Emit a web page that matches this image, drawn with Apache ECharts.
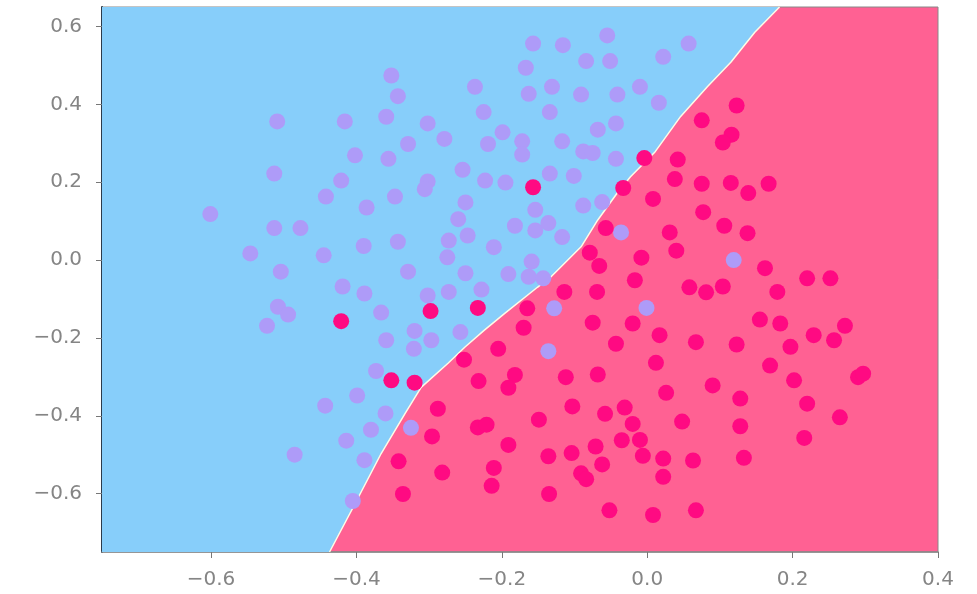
<!DOCTYPE html>
<html>
<head>
<meta charset="utf-8">
<script src="https://cdn.jsdelivr.net/npm/echarts@6/dist/echarts.min.js"></script>
<style>html,body{margin:0;padding:0;background:#fff}#c{width:977px;height:594px}</style>
</head>
<body>
<div id="c"></div>
<script>
// Axis limits and tick labels
const xRange = [-0.75, 0.4];
const yRange = [-0.75, 0.65];
const xTicks = [-0.6, -0.4, -0.2, 0.0, 0.2, 0.4];
const yTicks = [-0.6, -0.4, -0.2, 0.0, 0.2, 0.4, 0.6];

// Decision boundary (blue region lies above/left of it)
const boundary = [
  [-0.437,-0.75],[-0.405,-0.637],[-0.366,-0.497],[-0.333,-0.394],[-0.311,-0.327],
  [-0.274,-0.265],[-0.251,-0.224],[-0.224,-0.180],[-0.196,-0.137],[-0.151,-0.070],
  [-0.133,-0.044],[-0.091,0.034],[-0.068,0.103],[-0.041,0.173],[-0.023,0.214],
  [0.010,0.276],[0.046,0.369],[0.083,0.446],[0.115,0.508],[0.148,0.585],[0.182,0.65]
];

// Class 0 points (lavender)
const class0 = [
  [-0.509,0.356],[-0.513,0.222],[-0.601,0.118],[-0.513,0.082],[-0.477,0.082],[-0.546,0.017],
  [-0.445,0.012],[-0.504,-0.030],[-0.508,-0.120],[-0.494,-0.140],[-0.523,-0.169],[-0.443,-0.374],
  [-0.485,-0.500],[-0.442,0.163],
  [-0.157,0.556],[-0.116,0.552],[-0.055,0.577],[-0.167,0.494],[-0.084,0.511],[-0.051,0.511],
  [-0.352,0.474],[-0.237,0.445],[-0.163,0.427],[-0.131,0.445],[-0.091,0.425],[-0.041,0.425],
  [-0.343,0.421],[-0.416,0.356],[-0.359,0.368],[-0.302,0.351],[-0.225,0.380],[-0.134,0.380],
  [-0.043,0.351],[-0.068,0.335],[-0.199,0.328],[-0.279,0.311],[-0.329,0.298],[-0.219,0.298],
  [-0.172,0.305],[-0.172,0.271],[-0.117,0.305],[-0.088,0.279],[-0.075,0.275],[-0.043,0.260],
  [-0.402,0.269],[-0.356,0.260],[-0.421,0.204],[-0.254,0.232],[-0.302,0.202],[-0.306,0.182],
  [-0.223,0.204],[-0.195,0.199],[-0.134,0.222],[-0.101,0.216],[-0.347,0.163],[-0.386,0.135],
  [-0.250,0.148],[-0.154,0.129],[-0.088,0.140],[-0.062,0.149],[-0.260,0.105],[-0.182,0.088],
  [-0.154,0.076],[-0.136,0.095],[-0.036,0.071],[-0.390,0.036],[-0.343,0.047],[-0.273,0.050],
  [-0.247,0.063],[-0.211,0.033],[-0.117,0.059],[-0.275,0.007],[-0.159,-0.004],[-0.329,-0.030],
  [-0.250,-0.034],[-0.191,-0.036],[-0.163,-0.043],[-0.143,-0.047],[-0.419,-0.068],[-0.389,-0.086],
  [-0.302,-0.091],[-0.273,-0.082],[-0.228,-0.076],
  [-0.366,-0.135],[-0.320,-0.182],[-0.359,-0.206],[-0.297,-0.206],[-0.321,-0.228],[-0.257,-0.185],
  [-0.128,-0.124],[-0.136,-0.234],[-0.373,-0.285],[-0.399,-0.348],[-0.360,-0.394],[-0.380,-0.436],
  [-0.325,-0.431],[-0.414,-0.464],[-0.389,-0.514],[-0.405,-0.619],
  [-0.001,-0.123],[0.057,0.556],[0.022,0.522],[-0.010,0.445],[0.016,0.404],[0.119,0.000]
];

// Class 1 points (magenta)
const class1 = [
  [-0.157,0.187],[-0.033,0.185],[-0.057,0.082],[-0.079,0.019],[-0.066,-0.015],[-0.114,-0.082],
  [-0.069,-0.082],[-0.233,-0.123],[-0.298,-0.131],[-0.421,-0.157],[-0.165,-0.124],[-0.170,-0.174],
  [-0.075,-0.161],[-0.205,-0.228],[-0.043,-0.215],[-0.252,-0.256],[-0.352,-0.309],[-0.320,-0.315],
  [-0.232,-0.311],[-0.182,-0.295],[-0.191,-0.328],[-0.112,-0.301],[-0.068,-0.294],[-0.288,-0.382],
  [-0.103,-0.376],[-0.058,-0.395],[-0.031,-0.379],[-0.149,-0.410],[-0.233,-0.430],[-0.221,-0.423],
  [-0.296,-0.453],[-0.191,-0.475],[-0.071,-0.479],[-0.035,-0.463],[-0.104,-0.496],[-0.136,-0.504],
  [-0.342,-0.517],[-0.062,-0.525],[-0.211,-0.534],[-0.282,-0.546],[-0.091,-0.548],[-0.084,-0.563],
  [-0.214,-0.580],[-0.336,-0.601],[-0.135,-0.601],[-0.052,-0.643],
  [-0.017,-0.052],[0.058,-0.070],[0.081,-0.083],[0.104,-0.068],[0.179,-0.082],[0.220,-0.047],
  [0.252,-0.047],[-0.020,-0.163],[0.017,-0.193],[0.067,-0.211],[0.123,-0.217],[0.155,-0.153],
  [0.183,-0.163],[0.197,-0.223],[0.229,-0.193],[0.257,-0.206],[0.272,-0.169],[0.012,-0.264],
  [0.169,-0.271],[0.202,-0.309],[0.290,-0.301],[0.297,-0.292],[0.026,-0.341],[0.090,-0.322],
  [0.128,-0.356],[0.220,-0.369],[0.265,-0.404],[-0.020,-0.421],[0.048,-0.415],[0.128,-0.427],
  [0.216,-0.457],[-0.010,-0.462],[-0.006,-0.503],[0.022,-0.510],[0.063,-0.515],[0.133,-0.508],
  [0.022,-0.557],[0.008,-0.655],[0.067,-0.643],
  [0.123,0.397],[0.075,0.359],[0.116,0.322],[0.104,0.302],[-0.004,0.262],[0.042,0.258],
  [0.038,0.208],[0.075,0.196],[0.115,0.198],[0.139,0.172],[0.167,0.196],[0.008,0.157],
  [0.077,0.123],[0.106,0.088],[0.138,0.069],[0.031,0.071],[0.040,0.024],[-0.008,0.006],
  [0.162,-0.021]
];

const fmt = v => (v < 0 ? '\u2212' : '') + Math.abs(v).toFixed(1);
const labelStyle = {color:'#858585', fontFamily:'DejaVu Sans', fontSize:20};

const chart = echarts.init(document.getElementById('c'), null, {renderer:'canvas'});
chart.setOption({
  animation:false,
  backgroundColor:'#ffffff',
  grid:{left:102, right:39, top:7, bottom:42, show:true, backgroundColor:'#FF6193',
        borderColor:'#888', borderWidth:1},
  xAxis:{type:'value', min:xRange[0], max:xRange[1], splitLine:{show:false},
    axisLine:{show:true, onZero:false, lineStyle:{color:'#888', width:1.5}},
    axisTick:{show:true, length:6, customValues:xTicks, lineStyle:{color:'#777'}},
    axisLabel:Object.assign({customValues:xTicks, margin:18, formatter:fmt}, labelStyle)},
  yAxis:{type:'value', min:yRange[0], max:yRange[1], splitLine:{show:false},
    axisLine:{show:true, onZero:false, lineStyle:{color:'#2b3b4b', width:2}},
    axisTick:{show:true, length:6, customValues:yTicks, lineStyle:{color:'#777'}},
    axisLabel:Object.assign({customValues:yTicks, margin:20, formatter:fmt}, labelStyle)},
  series:[
    {type:'line', data:[[xRange[0], yRange[0]]].concat(boundary), showSymbol:false, silent:true,
     lineStyle:{width:0}, areaStyle:{color:'#87CEFA', opacity:1, origin:'end'}, z:1, clip:true},
    {type:'line', data:boundary, showSymbol:false, silent:true,
     lineStyle:{width:1.5, color:'#FFFBE6'}, z:2, clip:true},
    {type:'scatter', data:class0, symbolSize:16, itemStyle:{color:'#AE9BF8', opacity:1}, z:3},
    {type:'scatter', data:class1, symbolSize:16, itemStyle:{color:'#FF0A82', opacity:1}, z:4}
  ]
});
</script>
</body>
</html>
